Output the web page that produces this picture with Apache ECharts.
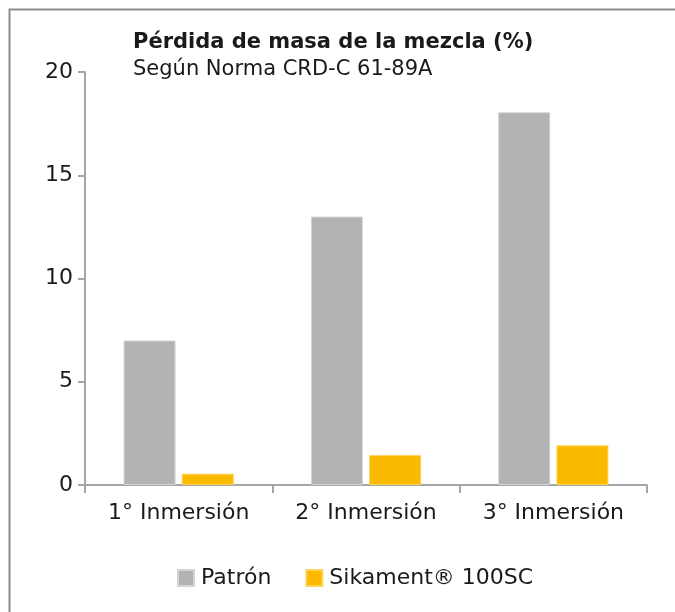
<!DOCTYPE html>
<html>
<head>
<meta charset="utf-8">
<script src="https://cdn.jsdelivr.net/npm/echarts@6/dist/echarts.min.js"></script>
<style>
  html, body { margin: 0; padding: 0; background: #fff; }
  #chart { width: 675px; height: 612px; }
</style>
</head>
<body>
<div id="chart"></div>
<script>
  var categories = ['1° Inmersión', '2° Inmersión', '3° Inmersión']
  var patron = [7, 13, 18.05]
  var sikament = [0.55, 1.45, 1.92]
  var seriesNames = ['Patrón', 'Sikament® 100SC']

  var font = 'DejaVu Sans'
  var chart = echarts.init(document.getElementById('chart'))
  chart.setOption({
    animation: false,
    textStyle: { fontFamily: font },
    graphic: [{
      type: 'polyline',
      shape: { points: [[9.5, 620], [9.5, 9.5], [680, 9.5]] },
      style: { stroke: '#8c8c8c', lineWidth: 2, fill: null }
    }],
    title: {
      left: 128,
      top: 27,
      text: 'Pérdida de masa de la mezcla (%)',
      subtext: 'Según Norma CRD-C 61-89A',
      itemGap: 6,
      textStyle: { fontFamily: font, fontWeight: 'bold', fontSize: 21, color: '#1a1a1a' },
      subtextStyle: { fontFamily: font, fontSize: 21, color: '#1a1a1a' }
    },
    legend: {
      left: 172,
      top: 562,
      icon: 'rect',
      itemWidth: 16,
      itemHeight: 16,
      itemGap: 34,
      data: seriesNames,
      textStyle: { fontFamily: font, fontSize: 22, color: '#1a1a1a', padding: [0, 0, 0, 2] }
    },
    grid: { left: 85, right: 28, top: 72, bottom: 127 },
    xAxis: {
      type: 'category',
      data: categories,
      axisLine: { lineStyle: { color: '#a6a6a6', width: 2 } },
      axisTick: { show: true, length: 8, lineStyle: { color: '#a6a6a6', width: 2 } },
      axisLabel: { fontSize: 22, color: '#1a1a1a', margin: 17 }
    },
    yAxis: {
      type: 'value',
      min: 0,
      max: 20,
      interval: 5,
      axisLine: { show: true, lineStyle: { color: '#a6a6a6', width: 2 } },
      axisTick: { show: true, length: 7, lineStyle: { color: '#a6a6a6', width: 2 } },
      axisLabel: { fontSize: 22, color: '#1a1a1a', margin: 12 },
      splitLine: { show: false }
    },
    series: [{
      name: seriesNames[0],
      type: 'bar',
      data: patron,
      barWidth: 52,
      barGap: '12%',
      itemStyle: { color: '#b2b3b5', borderColor: '#d4d5d6', borderWidth: 1 }
    }, {
      name: seriesNames[1],
      type: 'bar',
      data: sikament,
      barWidth: 52,
      itemStyle: { color: '#fbba00', borderColor: '#fdd45c', borderWidth: 1 }
    }]
  })
</script>
</body>
</html>
